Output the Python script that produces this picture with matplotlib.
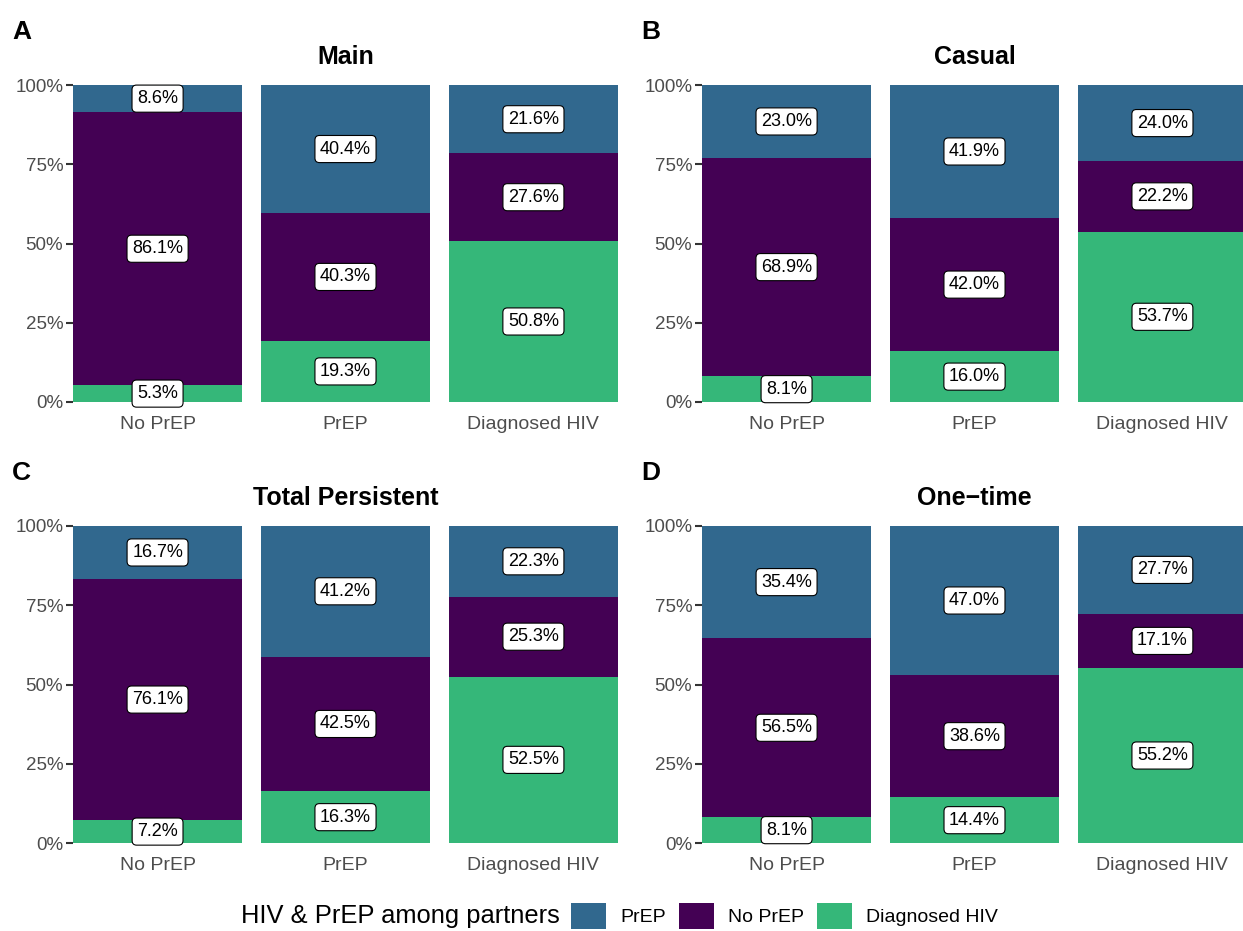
import matplotlib
matplotlib.use("Agg")
import matplotlib.pyplot as plt
import numpy as np
from matplotlib.patches import Patch

plt.rcParams['font.family'] = ['Liberation Sans', 'DejaVu Sans']

categories = ["No PrEP", "PrEP", "Diagnosed HIV"]
series = ["Diagnosed HIV", "No PrEP", "PrEP"]  # bottom to top
colors = {"PrEP": "#31688E", "No PrEP": "#440154", "Diagnosed HIV": "#35B779"}

panel_titles = ["Main", "Casual", "Total Persistent", "One\u2212time"]
panel_letters = ["A", "B", "C", "D"]

# percentages per category: [Diagnosed HIV, No PrEP, PrEP]
main = [[5.3, 86.1, 8.6], [19.3, 40.3, 40.4], [50.8, 27.6, 21.6]]
casual = [[8.1, 68.9, 23.0], [16.0, 42.0, 41.9], [53.7, 22.2, 24.0]]
persistent = [[7.2, 76.1, 16.7], [16.3, 42.5, 41.2], [52.5, 25.3, 22.3]]
onetime = [[8.1, 56.5, 35.4], [14.4, 38.6, 47.0], [55.2, 17.1, 27.7]]
panels = [main, casual, persistent, onetime]

fig = plt.figure(figsize=(12.43, 9.31), dpi=100)

W, H = 1243, 931
lefts = [73, 702, 73, 702]
tops = [85, 85, 526, 526]
aw, ah = 545, 317

for i, data in enumerate(panels):
    l, t = lefts[i], tops[i]
    ax = fig.add_axes([l / W, 1 - (t + ah) / H, aw / W, ah / H])
    x = np.arange(len(categories))
    arr = np.array(data, dtype=float)
    arr = arr / arr.sum(axis=1, keepdims=True)
    bottom = np.zeros(len(categories))
    for j, s in enumerate(series):
        ax.bar(x, arr[:, j], bottom=bottom, width=0.9, color=colors[s], linewidth=0)
        for k in range(len(categories)):
            ax.text(x[k], bottom[k] + arr[k, j] / 2, f"{data[k][j]:.1f}%",
                    ha='center', va='center', fontsize=13, color='black',
                    bbox=dict(boxstyle='round,pad=0.28,rounding_size=0.25',
                              fc='white', ec='black', lw=0.8))
        bottom += arr[:, j]
    ax.set_xlim(-0.45, 2.45)
    ax.set_ylim(0, 1)
    ax.set_yticks([0, 0.25, 0.5, 0.75, 1.0])
    ax.set_yticklabels(["0%", "25%", "50%", "75%", "100%"])
    ax.set_xticks(x)
    ax.set_xticklabels(categories)
    ax.tick_params(axis='y', length=5, width=1.5, colors='#333333',
                   labelcolor='#4D4D4D', labelsize=13.5, pad=2)
    ax.tick_params(axis='x', length=0, labelcolor='#4D4D4D', labelsize=14, pad=10)
    for sp in ax.spines.values():
        sp.set_visible(False)
    ax.set_title(panel_titles[i], fontsize=18, fontweight='bold', pad=15)
    fig.text((l - 61) / W, 1 - 32 / H - (t - 85) / H, panel_letters[i],
             fontsize=19, fontweight='bold', ha='left', va='center')

fig.text(560 / W, 1 - 916 / H, "HIV & PrEP among partners", fontsize=18.4,
         ha='right', va='center', color='black')
handles = [Patch(facecolor=colors[s], edgecolor='none') for s in ["PrEP", "No PrEP", "Diagnosed HIV"]]
fig.legend(handles, ["PrEP", "No PrEP", "Diagnosed HIV"], ncol=3, frameon=False,
           loc='center left', bbox_to_anchor=(563 / W, 1 - 916 / H),
           fontsize=14, handlelength=1.8, handleheight=1.75,
           columnspacing=0.65, handletextpad=0.75, borderaxespad=0)

fig.savefig("out.png", dpi=100)
